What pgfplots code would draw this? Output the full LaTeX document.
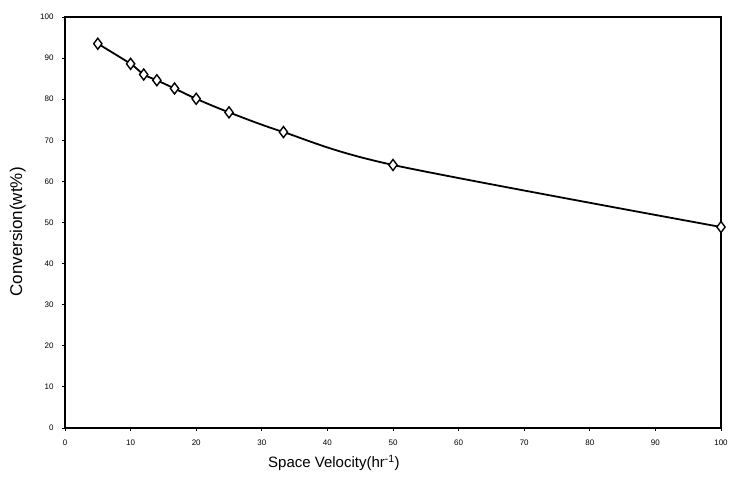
\documentclass[border=0pt]{standalone}
\usepackage{fontspec}
\setmainfont{Liberation Sans}
\usepackage{pgfplots}
\pgfplotsset{compat=1.18}

\begin{document}
\begin{tikzpicture}
\begin{axis}[
  scale only axis,
  width=656pt, height=411pt,
  xmin=0, xmax=100, ymin=0, ymax=100,
  xtick={0,10,...,100}, ytick={0,10,...,100},
  xtick pos=bottom, ytick pos=left,
  tick align=outside,
  major tick length=3pt,
  tick style={black, line width=0.8pt},
  axis line style={line width=2.2pt},
  tick label style={font=\fontsize{8}{9}\selectfont},
  /pgf/number format/assume math mode=true,
  xticklabel style={yshift=-5pt},
  yticklabel style={xshift=-5pt},
  xlabel={Space Velocity(hr\textsuperscript{-1})},
  ylabel={Conversion(wt\%)},
  xlabel style={font=\fontsize{15}{17}\selectfont,
    at={(axis description cs:0.410,-0.085)}, anchor=center},
  ylabel style={font=\fontsize{17}{19}\selectfont,
    at={(axis description cs:-0.072,0.477)}, anchor=center},
]
  % measured points and fitted curve
  \addplot[black, line width=1.8pt, smooth, mark=diamond*, mark size=5.5pt,
    mark options={fill=white, line width=1.4pt}] coordinates {
    (5,93.5) (10,88.6) (12,86.0) (14,84.6) (16.7,82.6) (20,80.1)
    (25,76.8) (33.3,72.0) (50,64.0) (100,48.9)
  };
\end{axis}
\pgfresetboundingbox
\path[use as bounding box] (-65pt,-61pt) rectangle (668pt,428pt);
\end{tikzpicture}
\end{document}
